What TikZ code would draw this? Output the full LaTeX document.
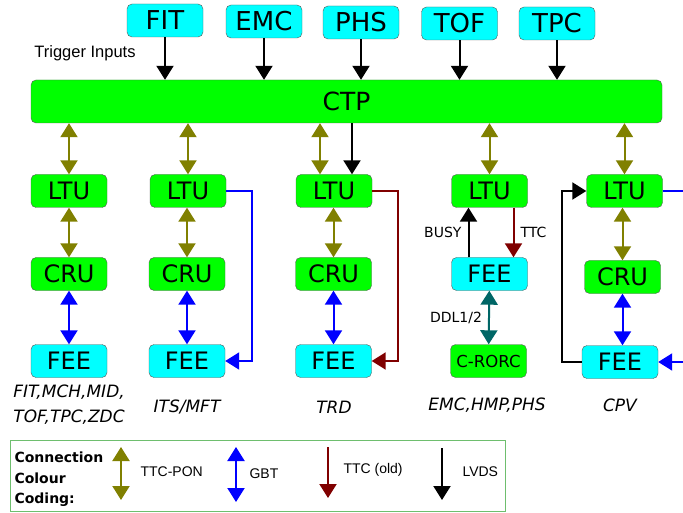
\documentclass[tikz,border=0pt]{standalone}
\usepackage{xcolor}
\usepackage{fontspec}
\setmainfont{DejaVu Sans}
\newfontfamily\arialfont{Liberation Sans}
\usepackage{tikz}
\usetikzlibrary{arrows.meta, positioning}

\definecolor{unitgreen}{RGB}{0,255,0}
\definecolor{unitcyan}{RGB}{0,255,255}
\definecolor{ponolive}{RGB}{128,128,0}
\definecolor{gbtblue}{RGB}{0,0,255}
\definecolor{ttcred}{RGB}{128,0,0}
\definecolor{ddlteal}{RGB}{0,102,102}
\definecolor{legendgreen}{RGB}{110,190,110}

\tikzset{
    unit/.style={draw=black!65, rounded corners=5pt, minimum width=76pt, minimum height=33pt,
        inner sep=0pt, font=\fontsize{24}{24}\selectfont},
    greenunit/.style={unit, fill=unitgreen},
    cyanunit/.style={unit, fill=unitcyan},
    link/.style={line width=2pt, -{Triangle[width=17pt,length=14pt]}},
    duplex/.style={line width=2pt, {Triangle[width=17pt,length=14pt]}-{Triangle[width=17pt,length=14pt]}},
    wire/.style={line width=2pt},
    group/.style={font=\fontsize{17}{25}\selectfont\itshape, align=center},
    tag/.style={font=\fontsize{14}{14}\selectfont, inner sep=0pt, text=black},
    key/.style={font=\arialfont\fontsize{14}{14}\selectfont, anchor=west}
}

\begin{document}
\begin{tikzpicture}[x=1pt, y=-1pt]
    \useasboundingbox (0,0) rectangle (683,513);

    % Rows of the readout chain
    \def\ltuy{191}
    \def\cruy{274}
    \def\feey{361}

    % Trigger inputs
    \node[cyanunit, font=\fontsize{26}{26}\selectfont] (fit) at (165,20.5) {FIT};
    \node[cyanunit, font=\fontsize{26}{26}\selectfont] (emc) at (264,21.5) {EMC};
    \node[cyanunit, font=\fontsize{26}{26}\selectfont] (phs) at (361,22.5) {PHS};
    \node[cyanunit, font=\fontsize{26}{26}\selectfont] (tof) at (459.5,23.5) {TOF};
    \node[cyanunit, font=\fontsize{26}{26}\selectfont] (tpc) at (557,23.5) {TPC};
    \node[font=\arialfont\fontsize{16.5}{16.5}\selectfont] (trig) at (85,53) {Trigger Inputs};

    % Central trigger processor
    \node[greenunit, minimum width=631pt, minimum height=43pt, font=\fontsize{25}{25}\selectfont] (ctp) at (346.5,101.5) {CTP};

    \foreach \det in {fit,emc,phs,tof,tpc} {
        \draw[link] (\det) -- (\det |- ctp.north);
    }

    % FIT, MCH, MID, TOF, TPC, ZDC
    \node[greenunit] (ltuA) at (69,\ltuy) {LTU};
    \node[greenunit] (cruA) at (69,\cruy) {CRU};
    \node[cyanunit] (feeA) at (69,\feey) {FEE};
    \node[group] (grpA) at (69,404.5) {FIT,MCH,MID,\\TOF,TPC,ZDC};

    % ITS, MFT
    \node[greenunit] (ltuB) at (188,\ltuy) {LTU};
    \node[greenunit] (cruB) at (187,\cruy) {CRU};
    \node[cyanunit] (feeB) at (187,\feey) {FEE};
    \node[group] (grpB) at (187,407) {ITS/MFT};

    % TRD
    \node[greenunit] (ltuC) at (334,\ltuy) {LTU};
    \node[greenunit] (cruC) at (333.5,\cruy) {CRU};
    \node[cyanunit] (feeC) at (333.5,\feey) {FEE};
    \node[group] (grpC) at (334,407) {TRD};

    % EMC, HMP, PHS
    \node[greenunit] (ltuD) at (489.5,\ltuy) {LTU};
    \node[cyanunit] (feeD) at (489.5,\cruy) {FEE};
    \node[greenunit, font=\fontsize{16.5}{16.5}\selectfont] (rorc) at (488.5,\feey) {C-RORC};
    \node[group] (grpD) at (487,405) {EMC,HMP,PHS};

    % CPV
    \node[greenunit] (ltuE) at (624.5,\ltuy) {LTU};
    \node[greenunit] (cruE) at (622.5,\cruy+3) {CRU};
    \node[cyanunit] (feeE) at (620,\feey+1) {FEE};
    \node[group] (grpE) at (620,405) {CPV};
    \coordinate (outE) at (683,\ltuy);
    \coordinate (inE) at (683,\feey+1);

    % CTP to LTU (TTC-PON)
    \foreach \ltu in {ltuA,ltuB,ltuD,ltuE} {
        \draw[duplex, ponolive] (ctp.south -| \ltu) -- (\ltu);
    }
    \draw[duplex, ponolive] ([xshift=-14pt]ltuC.north |- ctp.south) -- ([xshift=-14pt]ltuC.north);
    \draw[link] ([xshift=18pt]ltuC.north |- ctp.south) -- ([xshift=18pt]ltuC.north);

    % LTU to CRU, CRU to FEE
    \draw[duplex, ponolive] (ltuA) -- (cruA);
    \draw[duplex, gbtblue] (cruA) -- (feeA);
    \draw[duplex, ponolive] (cruB |- ltuB.south) -- (cruB);
    \draw[duplex, gbtblue] (cruB) -- (feeB);
    \draw[duplex, ponolive] (ltuC.south -| cruC) -- (cruC);
    \draw[duplex, gbtblue] (cruC) -- (feeC);
    \draw[duplex, ponolive] (ltuE.south -| cruE) -- (cruE);
    \draw[duplex, gbtblue] (cruE) -- (cruE |- feeE.north);

    % Direct LTU links
    \draw[link, gbtblue] (ltuB.east) -- ++(26,0) |- (feeB.east);
    \draw[link, ttcred] (ltuC.east) -- ++(26,0) |- (feeC.east);
    \draw[link] ([xshift=-21pt]feeD.north) -- node[tag, midway, left=6pt] (busy) {BUSY} ([xshift=-21pt]ltuD.south);
    \draw[link, ttcred] ([xshift=24pt]ltuD.south) -- node[tag, midway, right=6pt] (ttc) {TTC} ([xshift=24pt]feeD.north);
    \draw[duplex, ddlteal] (feeD) -- node[tag, midway, left=6pt] (ddl) {DDL1/2} (rorc);
    \draw[wire, gbtblue] (ltuE.east) -- (outE);
    \draw[link, gbtblue] (inE) -- (feeE.east);
    \draw[link] (feeE.west) -- ++(-20,0) |- (ltuE.west);

    % Legend
    \node[draw=legendgreen, line width=1pt, minimum width=495pt, minimum height=71pt] (legend) at (257.5,475.5) {};
    \node[font=\bfseries\fontsize{14}{20.5}\selectfont, align=left, anchor=west] (coding) at (11,479.5) {Connection\\Colour\\Coding:};
    \coordinate (ponTop) at (121,447);
    \coordinate (ponBot) at (121,500);
    \coordinate (gbtTop) at (236,447);
    \coordinate (gbtBot) at (236,502);
    \coordinate (ttcTop) at (328,447);
    \coordinate (ttcBot) at (328,498);
    \coordinate (lvdsTop) at (442,448);
    \coordinate (lvdsBot) at (442,500);
    \draw[duplex, ponolive] (ponTop) -- (ponBot);
    \draw[duplex, gbtblue] (gbtTop) -- (gbtBot);
    \draw[link, ttcred] (ttcTop) -- (ttcBot);
    \draw[link] (lvdsTop) -- (lvdsBot);
    \node[key] (keyPon) at (137,472) {TTC-PON};
    \node[key] (keyGbt) at (246,474) {GBT};
    \node[key] (keyTtc) at (340,470) {TTC (old)};
    \node[key] (keyLvds) at (459,472) {LVDS};

\end{tikzpicture}
\end{document}
